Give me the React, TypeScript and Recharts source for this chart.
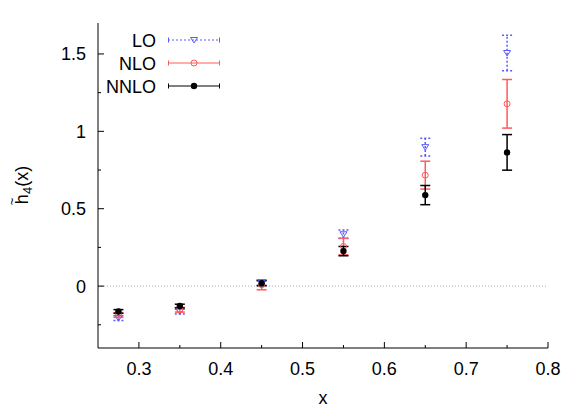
import React from "react";
import { ScatterChart, Scatter, XAxis, YAxis, ErrorBar, ReferenceLine, Legend, Label } from "recharts";

// x positions of the points
const xValues = [0.275, 0.35, 0.45, 0.55, 0.65, 0.75];

// LO
const loValues = [-0.207, -0.165, 0.02, 0.335, 0.898, 1.506];
const loErrors = [0.015, 0.015, 0.015, 0.027, 0.057, 0.115];

// NLO
const nloValues = [-0.187, -0.153, 0.008, 0.256, 0.717, 1.178];
const nloErrors = [0.015, 0.015, 0.032, 0.054, 0.09, 0.157];

// NNLO
const nnloValues = [-0.164, -0.129, 0.019, 0.226, 0.588, 0.864];
const nnloErrors = [0.012, 0.012, 0.017, 0.03, 0.062, 0.115];

const seriesNames = ["LO", "NLO", "NNLO"];

const xMajorTicks = [0.3, 0.4, 0.5, 0.6, 0.7, 0.8];
const xMinorTicks = [0.35, 0.45, 0.55, 0.65, 0.75];
const yMajorTicks = [0, 0.5, 1, 1.5];
const yMinorTicks = [-0.25, 0.25, 0.75, 1.25];

const FONT = "'Liberation Sans', Arial, sans-serif";
const BLUE = "#5a5aff";
const RED = "#ff5a5a";
const BLACK = "#000000";

const toData = (ys: number[], errs: number[]) =>
  xValues.map((x, i) => ({ x, y: ys[i], err: errs[i] }));

const loData = toData(loValues, loErrors);
const nloData = toData(nloValues, nloErrors);
const nnloData = toData(nnloValues, nnloErrors);

const Triangle = ({ cx, cy }: any) => (
  <polygon
    points={`${cx - 3.5},${cy - 2.5} ${cx + 3.5},${cy - 2.5} ${cx},${cy + 3}`}
    fill="none"
    stroke={BLUE}
    strokeWidth={1}
  />
);
const OpenCircle = ({ cx, cy }: any) => (
  <circle cx={cx} cy={cy} r={3} fill="none" stroke={RED} strokeWidth={1} />
);
const Dot = ({ cx, cy }: any) => <circle cx={cx} cy={cy} r={3.2} fill={BLACK} />;

const XTick = ({ x, y, payload }: any) => {
  const major = xMajorTicks.includes(payload.value);
  return (
    <g>
      <line x1={x} x2={x} y1={y} y2={y - (major ? 6 : 3)} stroke="#000" />
      {major && (
        <text x={x} y={y + 27} textAnchor="middle" fontSize={18} fontFamily={FONT} fill="#000">
          {payload.value}
        </text>
      )}
    </g>
  );
};

const YTick = ({ x, y, payload }: any) => {
  const major = yMajorTicks.includes(payload.value);
  return (
    <g>
      <line x1={x} x2={x + (major ? 6 : 3)} y1={y} y2={y} stroke="#000" />
      {major && (
        <text x={x - 12} y={y + 6.5} textAnchor="end" fontSize={18} fontFamily={FONT} fill="#000">
          {payload.value}
        </text>
      )}
    </g>
  );
};

const YTitle = ({ viewBox }: any) => {
  const cy = viewBox.y + viewBox.height / 2;
  const cx = 28;
  return (
    <text
      x={cx}
      y={cy}
      transform={`rotate(-90, ${cx}, ${cy})`}
      textAnchor="middle"
      fontSize={18}
      fontFamily={FONT}
      fill="#000"
    >
      <tspan>h</tspan>
      <tspan dx={-11} dy={-12} fontSize={13}>~</tspan>
      <tspan dx={3.5} dy={16} fontSize={13}>4</tspan>
      <tspan dy={-4}>(x)</tspan>
    </text>
  );
};

const legendStyles = [
  { color: BLUE, dash: "2 2", marker: "tri" },
  { color: RED, dash: undefined, marker: "circle" },
  { color: BLACK, dash: undefined, marker: "dot" },
];

const renderLegend = () => (
  <svg width={230} height={100} style={{ display: "block" }}>
    {seriesNames.map((name, i) => {
      const cy = 40 + i * 23;
      const s = legendStyles[i];
      return (
        <g key={name}>
          <text x={156} y={cy + 6.5} textAnchor="end" fontSize={18} fontFamily={FONT} fill="#000">
            {name}
          </text>
          <line x1={168} x2={220} y1={cy} y2={cy} stroke={s.color} strokeDasharray={s.dash} />
          <line x1={168.5} x2={168.5} y1={cy - 2.5} y2={cy + 2.5} stroke={s.color} />
          <line x1={219.5} x2={219.5} y1={cy - 2.5} y2={cy + 2.5} stroke={s.color} />
          {s.marker === "tri" && <Triangle cx={194} cy={cy} />}
          {s.marker === "circle" && <OpenCircle cx={194} cy={cy} />}
          {s.marker === "dot" && <Dot cx={194} cy={cy} />}
        </g>
      );
    })}
  </svg>
);

export default function App() {
  return (
    <div style={{ position: "absolute", left: 0, top: 0, background: "#fff" }}>
      <ScatterChart width={581} height={407} margin={{ top: 23, right: 33, bottom: 0, left: 0 }}>
        <XAxis
          type="number"
          dataKey="x"
          domain={[0.25, 0.8]}
          ticks={[...xMajorTicks, ...xMinorTicks].sort((a, b) => a - b)}
          interval={0}
          height={59}
          tickSize={0}
          tickMargin={0}
          tickLine={false}
          tick={<XTick />}
          axisLine={{ stroke: "#000" }}
          allowDataOverflow
        >
          <Label
            value="x"
            content={({ viewBox }: any) => (
              <text
                x={viewBox.x + viewBox.width / 2}
                y={404}
                textAnchor="middle"
                fontSize={18}
                fontFamily={FONT}
                fill="#000"
              >
                x
              </text>
            )}
          />
        </XAxis>
        <XAxis
          xAxisId="top"
          orientation="top"
          type="number"
          dataKey="x"
          domain={[0.25, 0.8]}
          height={0}
          tick={false}
          tickLine={false}
          axisLine={{ stroke: "#000" }}
        />
        <YAxis
          type="number"
          dataKey="y"
          domain={[-0.4, 1.7]}
          ticks={[...yMajorTicks, ...yMinorTicks].sort((a, b) => a - b)}
          interval={0}
          width={98}
          tickSize={0}
          tickMargin={0}
          tickLine={false}
          tick={<YTick />}
          axisLine={{ stroke: "#000" }}
          allowDataOverflow
        >
          <Label content={<YTitle />} />
        </YAxis>
        <YAxis
          yAxisId="right"
          orientation="right"
          type="number"
          domain={[-0.4, 1.7]}
          width={0}
          tick={false}
          tickLine={false}
          axisLine={{ stroke: "#000" }}
        />
        <ReferenceLine y={0} stroke="#aaaaaa" strokeDasharray="1 2" />
        <Legend
          layout="vertical"
          align="center"
          verticalAlign="middle"
          content={renderLegend}
          wrapperStyle={{ left: 0, top: 0, width: 230, height: 100 }}
        />
        <Scatter name="LO" data={loData} shape={<Triangle />} isAnimationActive={false}>
          <ErrorBar dataKey="err" direction="y" width={5} stroke={BLUE} strokeDasharray="2 2" />
        </Scatter>
        <Scatter name="NLO" data={nloData} shape={<OpenCircle />} isAnimationActive={false}>
          <ErrorBar dataKey="err" direction="y" width={5} stroke={RED} />
        </Scatter>
        <Scatter name="NNLO" data={nnloData} shape={<Dot />} isAnimationActive={false}>
          <ErrorBar dataKey="err" direction="y" width={5} stroke={BLACK} />
        </Scatter>
      </ScatterChart>
    </div>
  );
}
